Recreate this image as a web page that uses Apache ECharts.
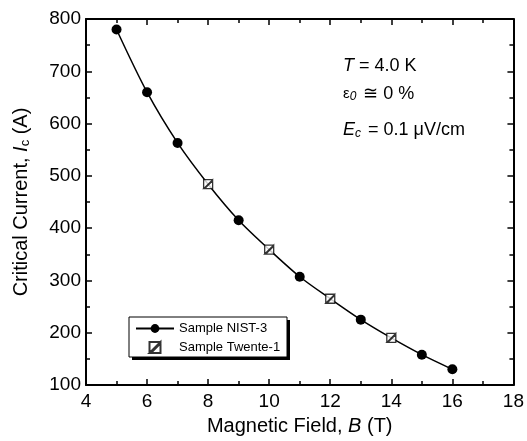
<!DOCTYPE html>
<html><head><meta charset="utf-8">
<script src="https://cdn.jsdelivr.net/npm/echarts@6/dist/echarts.min.js"></script>
<style>html,body{margin:0;padding:0;background:#fff}#c{width:527px;height:441px}</style>
</head><body><div id="c"></div>
<script>
var nistB = [5, 6, 7, 9, 11, 13, 15, 16];
var nistIc = [780, 660, 563, 415, 307, 225, 158, 130];
var twenteB = [8, 10, 12, 14];
var twenteIc = [484, 359, 265, 190];
var xTicks = [4, 6, 8, 10, 12, 14, 16, 18];
var yTicks = [100, 200, 300, 400, 500, 600, 700, 800];

var F = '"Liberation Sans", Arial, sans-serif';
var all = [];
nistB.forEach(function (b, i) { all.push({ b: b, v: nistIc[i], t: 0 }); });
twenteB.forEach(function (b, i) { all.push({ b: b, v: twenteIc[i], t: 1 }); });
all.sort(function (a, b) { return a.b - b.b; });
var curveData = all.map(function (p) {
  return p.t === 0 ? { value: [p.b, p.v] } : { value: [p.b, p.v], symbol: 'none' };
});
var twData = twenteB.map(function (b, i) { return [b, twenteIc[i]]; });

var hatch = 'path://M0,0 L10,0 L10,10 L0,10 Z M0,10 L10,0 L10,1.2 L1.2,10 Z';

var baseAxis = {
  axisLine: { show: true, onZero: false, lineStyle: { color: '#000', width: 2 } },
  axisTick: { show: true, inside: true, length: 6, lineStyle: { color: '#000', width: 1.5 } },
  minorTick: { show: true, splitNumber: 2, length: 4, lineStyle: { color: '#000', width: 1.5 } },
  splitLine: { show: false }
};
function ax(o) { return Object.assign({}, JSON.parse(JSON.stringify(baseAxis)), o); }

var chart = echarts.init(document.getElementById('c'));
chart.setOption({
  backgroundColor: '#fff',
  animation: false,
  grid: { left: 86, right: 13, top: 19, bottom: 52 },
  xAxis: [
    ax({ type: 'value', min: xTicks[0], max: xTicks[xTicks.length - 1], interval: 2, position: 'bottom',
      axisLabel: { color: '#000', fontFamily: F, fontSize: 19, margin: 7 },
      name: 'Magnetic Field, {i|B} (T)', nameLocation: 'middle', nameGap: 31,
      nameTextStyle: { color: '#000', fontFamily: F, fontSize: 20,
        rich: { i: { fontStyle: 'italic', fontFamily: F, fontSize: 20, color: '#000' } } } }),
    ax({ type: 'value', min: xTicks[0], max: xTicks[xTicks.length - 1], interval: 2, position: 'top',
      axisLabel: { show: false } })
  ],
  yAxis: [
    ax({ type: 'value', min: yTicks[0], max: yTicks[yTicks.length - 1], interval: 100, position: 'left',
      axisLabel: { color: '#000', fontFamily: F, fontSize: 19, margin: 5 },
      name: 'Critical Current, {i|I}{s|c} (A)', nameLocation: 'middle', nameGap: 54, nameRotate: 90,
      nameTextStyle: { color: '#000', fontFamily: F, fontSize: 20,
        rich: { i: { fontStyle: 'italic', fontFamily: F, fontSize: 20, color: '#000' },
                s: { fontFamily: F, fontSize: 13, color: '#000', verticalAlign: 'bottom', padding: [8, 0, 0, 0] } } } }),
    ax({ type: 'value', min: yTicks[0], max: yTicks[yTicks.length - 1], interval: 100, position: 'right',
      axisLabel: { show: false } })
  ],
  legend: {
    left: 129, top: 317, orient: 'vertical',
    itemWidth: 38, itemHeight: 11, itemGap: 6,
    padding: [5, 10, 6, 6],
    z: 10,
    textStyle: { color: '#000', fontFamily: F, fontSize: 13 },
    data: ['Sample NIST-3', 'Sample Twente-1']
  },
  series: [
    { name: 'Sample NIST-3', type: 'line', data: curveData, smooth: 0.3,
      symbol: 'circle', symbolSize: 10, showAllSymbol: true,
      lineStyle: { color: '#000', width: 1.5 }, itemStyle: { color: '#000' }, z: 3 },
    { name: 'Sample Twente-1', type: 'scatter', data: twData, symbol: hatch, symbolSize: 9,
      itemStyle: { color: '#fff', borderColor: '#000', borderWidth: 1.3 }, z: 4 }
  ],
  graphic: [
    { type: 'rect', z: 8, shape: { x: 132, y: 320, width: 158, height: 40 }, style: { fill: '#000' } },
    { type: 'rect', z: 9, shape: { x: 129, y: 317, width: 158, height: 40 }, style: { fill: '#fff', stroke: '#000', lineWidth: 1 } },
    { type: 'text', left: 343, top: 57, style: { text: '{i|T} = 4.0 K', fill: '#000', font: '18px ' + F,
      rich: { i: { fontStyle: 'italic', fontSize: 18, fontFamily: F } } } },
    { type: 'text', left: 343, top: 85, style: { text: '{e|ε}{s|0} ≅ 0 %', fill: '#000', font: '18px ' + F,
      rich: { e: { fontSize: 15, fontFamily: F }, s: { fontStyle: 'italic', fontSize: 12, fontFamily: F, padding: [6, 2, 0, 0] } } } },
    { type: 'text', left: 343, top: 121, style: { text: '{i|E}{s|c} = 0.1 μV/cm', fill: '#000', font: '18px ' + F,
      rich: { i: { fontStyle: 'italic', fontSize: 18, fontFamily: F }, s: { fontStyle: 'italic', fontSize: 12, fontFamily: F, padding: [8, 2, 0, 0] } } } }
  ]
});
</script></body></html>
